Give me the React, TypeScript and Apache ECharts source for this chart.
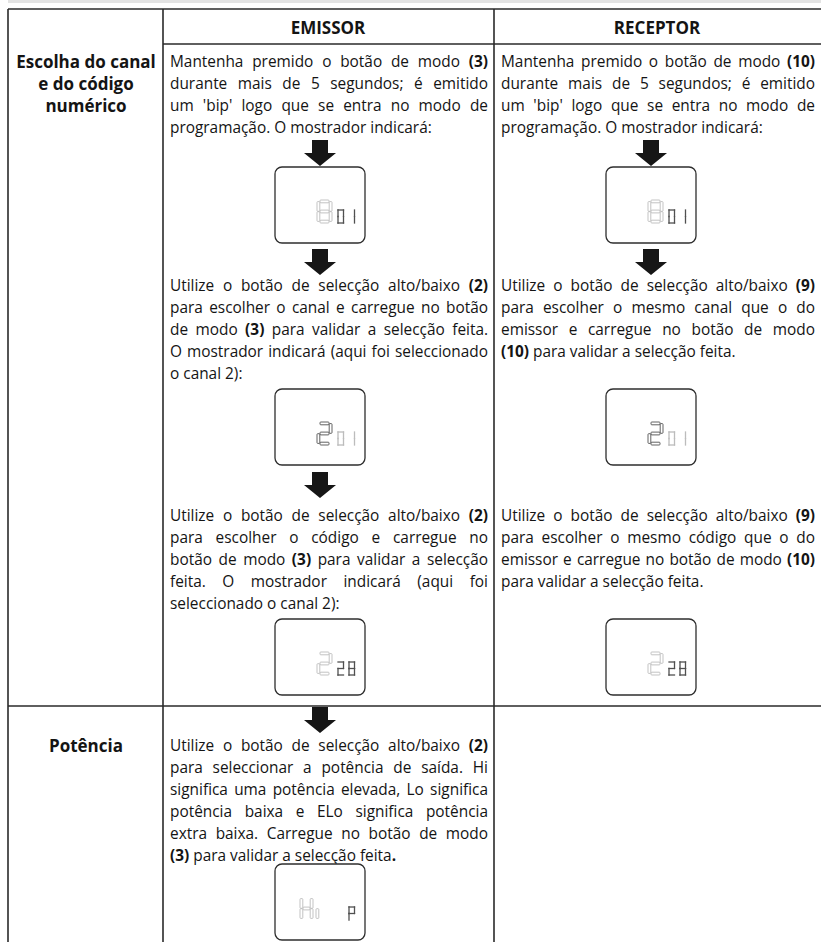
import React, { useEffect, useRef } from 'react';
import * as echarts from 'echarts';

const W = 821;
const H = 942;
const FAMILY = "'Open Sans', 'Noto Sans', sans-serif";

// ---- text content ----
const headers = ['EMISSOR', 'RECEPTOR'];
const rowLabel1 = ['Escolha do canal', 'e do código', 'numérico'];
const rowLabel2 = ['Potência'];

const emissorP1 = [
  'Mantenha premido o botão de modo **(3)**',
  'durante mais de 5 segundos; é emitido',
  "um 'bip' logo que se entra no modo de",
  'programação. O mostrador indicará:',
];
const emissorP2 = [
  'Utilize o botão de selecção alto/baixo **(2)**',
  'para escolher o canal e carregue no botão',
  'de modo **(3)** para validar a selecção feita.',
  'O mostrador indicará (aqui foi seleccionado',
  'o canal 2):',
];
const emissorP3 = [
  'Utilize o botão de selecção alto/baixo **(2)**',
  'para escolher o código  e carregue no',
  'botão de modo **(3)** para validar a selecção',
  'feita. O mostrador indicará (aqui foi',
  'seleccionado o canal 2):',
];
const emissorP4 = [
  'Utilize o botão de selecção alto/baixo **(2)**',
  'para seleccionar a potência de saída. Hi',
  'significa uma potência elevada, Lo significa',
  'potência baixa e ELo significa potência',
  'extra baixa. Carregue no botão de modo',
  '**(3)** para validar a selecção feita**.**',
];
const receptorP1 = [
  'Mantenha premido o botão de modo **(10)**',
  'durante mais de 5 segundos; é emitido',
  "um 'bip' logo que se entra no modo de",
  'programação. O mostrador indicará:',
];
const receptorP2 = [
  'Utilize o botão de selecção alto/baixo **(9)**',
  'para escolher o mesmo canal que o do',
  'emissor e carregue no botão de modo',
  '**(10)** para validar a selecção feita.',
];
const receptorP3 = [
  'Utilize o botão de selecção alto/baixo **(9)**',
  'para escolher o mesmo código que o do',
  'emissor e carregue no botão de modo **(10)**',
  'para validar a selecção feita.',
];

// ---- LCD displays: [char, slot, tone] ----
const display801 = [['8', 'big', 'light'], ['0', 's1', 'dark'], ['1', 's2', 'dark']];
const display201 = [['2', 'big', 'dark'], ['0', 's1', 'light'], ['1', 's2', 'light']];
const display228 = [['2', 'big', 'light'], ['2', 's1', 'dark'], ['8', 's2', 'dark']];
const displayHiP = [['H', 'hbig', 'light'], ['i', 'hi', 'light'], ['P', 's2', 'dark']];

const SEGMENTS: Record<string, string> = {
  '8': 'abcdefg', '0': 'abcdef', '1': 'bc', '2': 'abged', 'H': 'bcefg', 'P': 'abefg', 'i': 'e',
};
const TONES: Record<string, string> = { light: '#bcbcbc', dark: '#505050' };

let measureCtx: CanvasRenderingContext2D | null = null;
function measure(text: string, size: number, bold: boolean) {
  if (!measureCtx) measureCtx = document.createElement('canvas').getContext('2d');
  measureCtx!.font = `${bold ? 'bold ' : ''}${size}px ${FAMILY}`;
  return measureCtx!.measureText(text).width;
}

function parseWord(word: string) {
  const segs: { t: string; b: boolean }[] = [];
  const re = /\*\*(.+?)\*\*/g;
  let last = 0;
  let m: RegExpExecArray | null;
  while ((m = re.exec(word))) {
    if (m.index > last) segs.push({ t: word.slice(last, m.index), b: false });
    segs.push({ t: m[1], b: true });
    last = m.index + m[0].length;
  }
  if (last < word.length) segs.push({ t: word.slice(last), b: false });
  return segs;
}

function textEl(text: string, x: number, y: number, size: number, bold: boolean, align = 'left') {
  return {
    type: 'text',
    x, y,
    silent: true,
    style: {
      text,
      fill: '#141414',
      fontSize: size,
      fontFamily: FAMILY,
      fontWeight: bold ? 'bold' : 'normal',
      align, textAlign: align,
      verticalAlign: 'middle', textVerticalAlign: 'middle',
    },
  };
}

function layoutPara(lines: string[], x0: number, x1: number, yStart: number, lh: number, fs: number, els: any[]) {
  lines.forEach((line, i) => {
    const y = yStart + i * lh;
    const words = line.split(' ').filter((w) => w.length > 0).map(parseWord);
    const widths = words.map((segs) => segs.reduce((s, sg) => s + measure(sg.t, fs, sg.b), 0));
    const total = widths.reduce((a, b) => a + b, 0);
    const justify = i < lines.length - 1 && words.length > 1;
    const gap = justify ? (x1 - x0 - total) / (words.length - 1) : measure(' ', fs, false);
    let x = x0;
    words.forEach((segs, wi) => {
      let sx = x;
      segs.forEach((sg) => {
        els.push(textEl(sg.t, sx, y, fs, sg.b));
        sx += measure(sg.t, fs, sg.b);
      });
      x += widths[wi] + gap;
    });
  });
}

function arrow(cx: number, y0: number) {
  return {
    type: 'polygon',
    silent: true,
    shape: {
      points: [
        [cx - 8, y0], [cx + 8, y0], [cx + 8, y0 + 13], [cx + 16, y0 + 13],
        [cx, y0 + 26], [cx - 16, y0 + 13], [cx - 8, y0 + 13],
      ],
    },
    style: { fill: '#161616' },
  };
}

// outlined segments (big digits)
function bigDigit(ch: string, x: number, y: number, w: number, h: number, t: number, color: string, els: any[]) {
  const gp = 0.2;
  const hl = w - 2 * t - 2 * gp;
  const vl = h / 2 - t - 2 * gp + t / 2;
  const rects: Record<string, number[]> = {
    a: [x + t + gp, y, hl, t],
    d: [x + t + gp, y + h - t, hl, t],
    g: [x + t + gp, y + h / 2 - t / 2, hl, t],
    f: [x, y + t / 2 + gp, t, vl],
    b: [x + w - t, y + t / 2 + gp, t, vl],
    e: [x, y + h / 2 + gp, t, vl],
    c: [x + w - t, y + h / 2 + gp, t, vl],
  };
  (SEGMENTS[ch] || '').split('').forEach((s) => {
    const [rx, ry, rw, rh] = rects[s];
    els.push({
      type: 'rect', silent: true,
      shape: { x: rx, y: ry, width: rw, height: rh, r: 0.8 },
      style: { fill: 'none', stroke: color, lineWidth: 0.9 },
    });
  });
}

// single-stroke segments (small digits)
function smallDigit(ch: string, x: number, y: number, w: number, h: number, color: string, els: any[]) {
  const m = y + h / 2;
  const segs: Record<string, number[]> = {
    a: [x, y, x + w, y], d: [x, y + h, x + w, y + h], g: [x, m, x + w, m],
    f: [x, y, x, m], b: [x + w, y, x + w, m], e: [x, m, x, y + h], c: [x + w, m, x + w, y + h],
  };
  (SEGMENTS[ch] || '').split('').forEach((s) => {
    const [x1, y1, x2, y2] = segs[s];
    els.push({
      type: 'line', silent: true,
      shape: { x1, y1, x2, y2 },
      style: { stroke: color, lineWidth: 1.3, lineCap: 'square' },
    });
  });
}

function lcd(bx: number, by: number, glyphs: string[][], els: any[]) {
  els.push({
    type: 'rect', silent: true,
    shape: { x: bx, y: by, width: 90, height: 76, r: 7 },
    style: { fill: '#fff', stroke: '#2e2e2e', lineWidth: 1.3 },
  });
  glyphs.forEach(([ch, slot, tone]) => {
    const color = TONES[tone];
    if (slot === 'big') bigDigit(ch, bx + 42, by + 33, 15, 23, 2.8, color, els);
    else if (slot === 'hbig') bigDigit(ch, bx + 25, by + 33, 13, 23, 2.8, color, els);
    else if (slot === 'hi') bigDigit(ch, bx + 41, by + 33, 5, 23, 2.8, color, els);
    else if (slot === 's1') smallDigit(ch, bx + 63, by + 43, 5.5, 13, color, els);
    else if (slot === 's2') smallDigit(ch, bx + 74, by + 43, 5.5, 13, color, els);
  });
}

function line(x1: number, y1: number, x2: number, y2: number) {
  return {
    type: 'line', silent: true,
    shape: { x1, y1, x2, y2 },
    style: { stroke: '#2a2a2a', lineWidth: 1.6 },
  };
}

function buildElements() {
  const els: any[] = [];
  const refW = measure('programação. O mostrador indicará:', 15, false);
  let fs = 15 * 262 / refW;
  fs = Math.max(13, Math.min(16.5, fs));
  let fsL = 15 * 143 / measure('Escolha do canal', 15, true);
  fsL = Math.max(13, Math.min(17, fsL));
  const lh = 22;

  els.push({ type: 'rect', silent: true, shape: { x: 8, y: 0, width: W - 8, height: 3 }, style: { fill: '#e3e3e3' } });

  // grid
  els.push(line(8, 9, W, 9));
  els.push(line(163, 44, W, 44));
  els.push(line(8, 706, W, 706));
  els.push(line(8, 9, 8, H));
  els.push(line(163, 9, 163, H));
  els.push(line(494, 9, 494, H));

  // headers
  els.push(textEl(headers[0], 328, 27, fsL, true, 'center'));
  els.push(textEl(headers[1], 657, 27, fsL, true, 'center'));

  // row labels
  rowLabel1.forEach((t, i) => els.push(textEl(t, 86, 61 + i * lh, fsL, true, 'center')));
  rowLabel2.forEach((t, i) => els.push(textEl(t, 86, 745 + i * lh, fsL, true, 'center')));

  // emissor column
  const ex0 = 170, ex1 = 488, ecx = 320;
  layoutPara(emissorP1, ex0, ex1, 61, lh, fs, els);
  els.push(arrow(ecx, 140));
  lcd(ecx - 45, 167, display801, els);
  els.push(arrow(ecx, 249));
  layoutPara(emissorP2, ex0, ex1, 285, lh, fs, els);
  lcd(ecx - 45, 389, display201, els);
  els.push(arrow(ecx, 472));
  layoutPara(emissorP3, ex0, ex1, 515, lh, fs, els);
  lcd(ecx - 45, 619, display228, els);
  els.push(arrow(ecx, 707));
  layoutPara(emissorP4, ex0, ex1, 745, lh, fs, els);
  lcd(ecx - 45, 864, displayHiP, els);

  // receptor column
  const rx0 = 501, rx1 = 815, rcx = 651;
  layoutPara(receptorP1, rx0, rx1, 61, lh, fs, els);
  els.push(arrow(rcx, 140));
  lcd(rcx - 45, 167, display801, els);
  els.push(arrow(rcx, 249));
  layoutPara(receptorP2, rx0, rx1, 285, lh, fs, els);
  lcd(rcx - 45, 389, display201, els);
  layoutPara(receptorP3, rx0, rx1, 515, lh, fs, els);
  lcd(rcx - 45, 619, display228, els);

  return els;
}

export default function App() {
  const ref = useRef<HTMLDivElement>(null);
  useEffect(() => {
    if (!ref.current) return;
    const chart = echarts.init(ref.current, undefined, { renderer: 'svg', width: W, height: H });
    chart.setOption({
      animation: false,
      backgroundColor: '#ffffff',
      graphic: { elements: buildElements() },
    });
    return () => chart.dispose();
  }, []);
  return (
    <div
      ref={ref}
      style={{ position: 'absolute', left: 0, top: 0, width: W, height: H, background: '#fff' }}
    />
  );
}
